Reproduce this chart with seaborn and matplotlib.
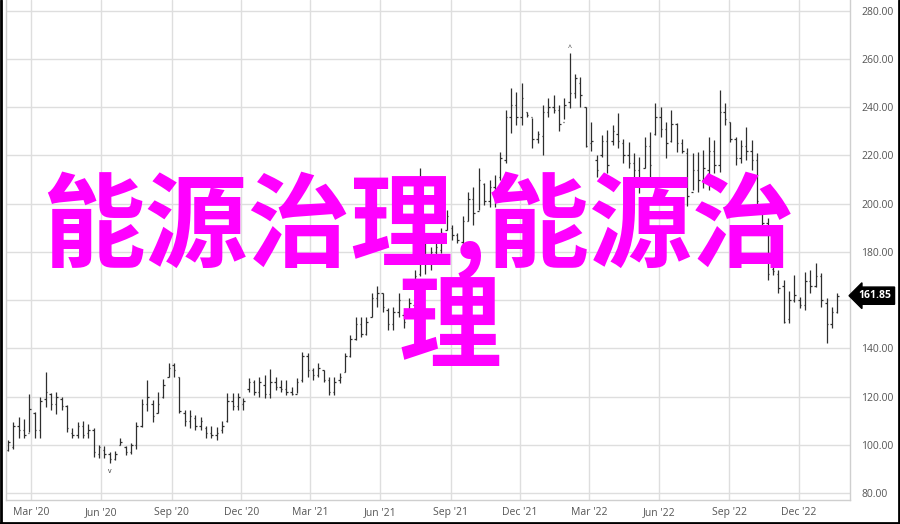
import numpy as np
import pandas as pd
import matplotlib
matplotlib.use("Agg")
import matplotlib.pyplot as plt
import matplotlib.dates as mdates
from matplotlib.lines import Line2D
import seaborn as sns

# ---- data (weekly OHLC) ----
start_date = "2020-01-31"
highs = [102, 109.6, 111.5, 110.7, 121, 113.6, 120, 130, 121.5, 122,
         120, 116.5, 107, 109.5, 110, 108.6, 107, 100, 99.5, 97,
         97.4, 102.8, 99.5, 100.8, 109.5, 119, 127, 118.6, 122, 127.3,
         134, 134, 128, 114.5, 114.5, 112.5, 111.5, 108, 108, 107.4,
         110, 121.5, 121.5, 121.5, 119.4, 127.7, 127, 128, 129, 131.5,
         128, 127, 127, 124, 127.7, 138.5, 138, 132, 134, 131,
         128, 128, 129.8, 138, 145.6, 153, 153, 153, 163, 166,
         163, 156.8, 157, 163, 155, 161, 172.5, 215, 186, 182,
         183.7, 190, 197.4, 191, 188, 195, 205, 207, 215, 208.6,
         210, 212, 221.5, 239, 248, 246.4, 250, 238, 235.6, 230,
         241, 244, 245, 241, 244, 262.6, 254, 252.6, 240, 234,
         220, 228.5, 230.6, 232.7, 237.7, 227, 225.6, 221, 219.4, 227.7,
         229.8, 241.8, 240, 234, 239, 233.5, 227, 223, 221, 221.5,
         222.3, 227.7, 226.5, 247, 241.8, 234, 227.7, 226.5, 232, 226.5,
         221, 199.5, 194, 173.8, 172.5, 168.4, 164, 170.5, 161.3, 171.7,
         172.5, 175.5, 171.3, 161, 157, 163]
lows = [97.5, 98.3, 103, 102.8, 105.3, 103, 102.8, 115.7, 114.5, 112.6,
        114.5, 105.3, 103, 103, 103, 103, 95, 94.5, 94.5, 92.5,
        93.7, 100, 95.8, 96, 98.3, 107.4, 114, 109.6, 113, 119.4,
        128, 128, 113, 108, 107, 106, 106, 103, 103, 102,
        105, 109.6, 114.5, 114.5, 114.5, 122, 120.7, 120, 119.4, 119.4,
        122.7, 122, 120.7, 120.7, 121.5, 126, 128, 127, 128, 126,
        120.7, 120.7, 125.6, 130, 136.4, 143.5, 144.7, 145.6, 153, 157,
        155, 147.6, 147.6, 153, 148.5, 154.7, 155, 170, 171, 172.5,
        178, 179.6, 189, 185, 183.7, 183, 193, 191, 197.4, 199.5,
        198.7, 198.7, 210, 217, 229.4, 232.7, 232.7, 236, 223, 225,
        220, 236, 237.7, 230, 235, 239.8, 244, 240, 223.6, 222,
        211, 219.4, 212.8, 224.4, 223, 217, 215, 211, 204.5, 215,
        211, 228.5, 227.7, 219, 225.6, 221.5, 221, 199, 205.7, 205,
        206.6, 205.7, 212.8, 213, 232.7, 225.6, 216, 217, 218, 214,
        198.7, 190.4, 168.4, 170.5, 163, 150.5, 150.5, 159.3, 156.8, 156,
        163, 165.5, 157, 142.2, 148.5, 154.7]
opens = [98, 99, 108, 106, 105, 113, 106, 119, 121, 117,
         119, 116, 105, 104, 108, 105, 106, 96, 98, 96,
         94, 100, 99, 97, 100, 108, 117, 117, 113, 120,
         128, 133, 128, 113, 110, 111, 108, 107, 105, 104,
         106, 110, 118, 116, 117, 123, 126, 122, 125, 121,
         126, 124, 123, 122, 121, 127, 137, 131, 129, 131,
         127, 122, 127, 130, 137, 144, 150, 146, 153, 161,
         163, 156, 150, 155, 154, 155, 158, 171, 184, 176,
         180, 181, 189, 190, 187, 184, 193, 202, 197, 208,
         201, 207, 211, 218, 236, 241, 236, 238, 236, 227,
         228, 238, 240, 239, 234, 242, 246, 250, 240, 225,
         218, 220, 226, 226, 229, 225, 220, 217, 214, 215,
         224, 229, 236, 231, 226, 233, 225, 221, 205, 214,
         210, 214, 222, 216, 238, 234, 227, 219, 224, 222,
         218, 199, 192, 173, 171, 166, 152, 160, 160, 158,
         168, 166, 170, 159, 150, 155]
closes = [101, 108, 106, 104, 115, 106, 118, 122, 117, 120,
          116, 107, 104, 108, 104, 106, 97, 99, 96, 94,
          96, 101, 97, 100, 108, 117, 120, 112, 117, 125,
          132, 131, 114, 110, 112, 108, 110, 105, 104, 105,
          108, 118, 116, 120, 118, 126, 122, 126, 121, 126,
          124, 123, 122, 121, 126, 137, 131, 129, 132, 127,
          122, 126, 128, 137, 144, 150, 146, 151, 161, 163,
          157, 150, 155, 160, 151, 159, 170, 185, 176, 180,
          182, 188, 195, 187, 185, 193, 202, 196, 210, 201,
          207, 201, 219, 236, 241, 236, 244, 237, 227, 229,
          238, 240, 239, 233, 241, 246, 252, 245, 224, 226,
          214, 226, 216, 230, 226, 220, 217, 214, 210, 224,
          216, 236, 231, 225, 233, 225, 222, 203, 214, 210,
          215, 222, 216, 238, 235, 227, 219, 224, 222, 218,
          201, 192, 171, 172, 165, 151, 160, 162, 158, 168,
          166, 170, 160, 150, 155, 161.85]
y_ticks = [80, 100, 120, 140, 160, 180, 200, 220, 240, 260, 280]
last_price = closes[-1]
title_line1 = "能源治理,能源治"
title_line2 = "理"

dates = pd.date_range(start_date, periods=len(highs), freq="7D")
df = pd.DataFrame({"date": dates, "open": opens, "high": highs,
                   "low": lows, "close": closes})
df["x"] = mdates.date2num(df["date"])

# ---- style ----
sns.set_theme(style="white")
plt.rcParams["font.family"] = ["Open Sans", "DejaVu Sans"]

W, H = 900, 524
fig = plt.figure(figsize=(W / 100, H / 100), dpi=100)
fig.patch.set_facecolor("white")
ax = fig.add_axes([6 / W, 24 / H, 844 / W, 500 / H])

bar_color = "#2e2e2e"
half = 1.9  # days, width of open/close ticks
ax.vlines(df["x"], df["low"], df["high"], color=bar_color, lw=0.9, zorder=3)
ax.hlines(df["open"], df["x"] - half, df["x"], color=bar_color, lw=0.9, zorder=3)
ax.hlines(df["close"], df["x"], df["x"] + half, color=bar_color, lw=0.9, zorder=3)

# high / low markers
i_lo = int(np.argmin(lows))
i_hi = int(np.argmax(highs))
ax.annotate("v", (df["x"][i_lo], lows[i_lo]), xytext=(0, -6), textcoords="offset points",
            ha="center", va="center", fontsize=5, color="#333333")
ax.annotate("^", (df["x"][i_hi], highs[i_hi]), xytext=(0, 3), textcoords="offset points",
            ha="center", va="center", fontsize=5, color="#333333")

# axes limits and ticks
x0 = mdates.date2num(pd.Timestamp("2020-03-01"))
ax.set_xlim(x0 + (6 - 31) / 0.7642, x0 + (850 - 31) / 0.7642)
ax.set_ylim(77.1, 284.5)
ax.set_yticks(y_ticks)
# the 160.00 label sits under the last-price tag in the reference
ax.set_yticklabels(["" if v == 160 else f"{v:.2f}" for v in y_ticks])
ax.yaxis.tick_right()
ax.tick_params(axis="y", length=0, pad=8, labelsize=7.5, labelcolor="#555555")

ax.xaxis.set_major_locator(mdates.MonthLocator(bymonth=[3, 6, 9, 12]))
ax.xaxis.set_major_formatter(mdates.DateFormatter("%b '%y"))
ax.tick_params(axis="x", length=0, pad=5, labelsize=7.5, labelcolor="#555555")

ax.grid(True, color="#dedede", lw=1.0, zorder=0)
ax.set_axisbelow(True)
for s in ["left", "right", "bottom"]:
    ax.spines[s].set_color("#cfcfcf")
    ax.spines[s].set_linewidth(1.0)
ax.spines["top"].set_visible(False)

# last price tag
ax.text(1.0296, last_price, f"{last_price:.2f}",
        transform=ax.get_yaxis_transform(), ha="center", va="center",
        fontsize=7.5, fontweight="bold", color="white", zorder=10, clip_on=False,
        bbox=dict(boxstyle="larrow,pad=0.3", fc="black", ec="black"))

# overlay text
cjk = ["Noto Sans CJK SC", "DejaVu Sans"]
fig.text(418 / W, 1 - 226 / H, title_line1, fontsize=74, color="#ff00ff",
         family=cjk, fontweight="bold", ha="center", va="center", zorder=20)
fig.text(450 / W, 1 - 330 / H, title_line2, fontsize=74, color="#ff00ff",
         family=cjk, fontweight="bold", ha="center", va="center", zorder=20)

# figure frame (left, bottom, right)
for xs, ys in [([0.001, 0.001], [0, 1]), ([0, 1], [0.002, 0.002]), ([0.999, 0.999], [0, 1])]:
    fig.add_artist(Line2D(xs, ys, transform=fig.transFigure, color="black", lw=2))

fig.savefig("out.png", dpi=100)
